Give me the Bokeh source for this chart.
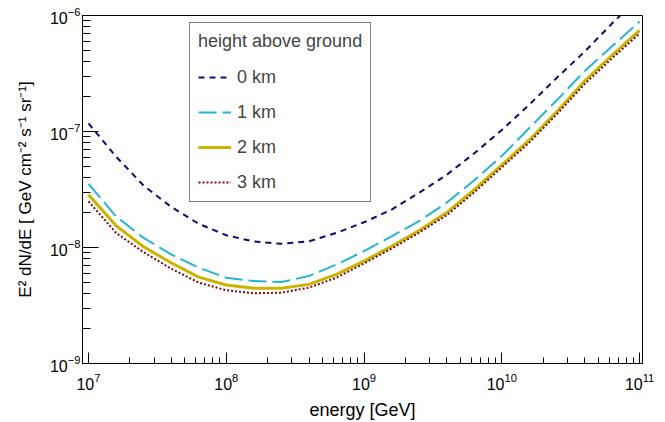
from bokeh.plotting import figure
from bokeh.models import Legend, LegendItem, FixedTicker, Range1d
from bokeh.embed import file_html
from bokeh.resources import INLINE

# energy [GeV]
energy = [1.000e7, 1.585e7, 2.512e7, 3.981e7, 6.310e7,
          1.000e8, 1.585e8, 2.512e8, 3.981e8, 6.310e8,
          1.000e9, 1.585e9, 2.512e9, 3.981e9, 6.310e9,
          1.000e10, 1.585e10, 2.512e10, 3.981e10, 6.310e10,
          1.000e11]

flux_0km = [1.175e-7, 6.08e-8, 3.42e-8, 2.24e-8, 1.60e-8,
            1.275e-8, 1.125e-8, 1.075e-8, 1.13e-8, 1.336e-8,
            1.65e-8, 2.12e-8, 2.965e-8, 4.23e-8, 6.48e-8,
            1.03e-7, 1.705e-7, 2.91e-7, 4.86e-7, 8.53e-7,
            1.455e-6]
flux_1km = [3.54e-8, 1.857e-8, 1.211e-8, 8.71e-9, 6.70e-9,
            5.49e-9, 5.14e-9, 5.04e-9, 5.67e-9, 7.15e-9,
            9.29e-9, 1.25e-8, 1.688e-8, 2.43e-8, 3.80e-8,
            6.16e-8, 1.072e-7, 1.863e-7, 3.31e-7, 5.42e-7,
            8.88e-7]
flux_2km = [2.85e-8, 1.545e-8, 1.014e-8, 7.39e-9, 5.56e-9,
            4.75e-9, 4.45e-9, 4.45e-9, 4.81e-9, 5.86e-9,
            7.63e-9, 1.026e-8, 1.40e-8, 2.00e-8, 3.15e-8,
            5.16e-8, 8.45e-8, 1.485e-7, 2.71e-7, 4.54e-7,
            7.43e-7]
flux_3km = [2.50e-8, 1.336e-8, 9.11e-9, 6.57e-9, 4.98e-9,
            4.28e-9, 4.03e-9, 4.08e-9, 4.51e-9, 5.49e-9,
            7.29e-9, 9.80e-9, 1.345e-8, 1.90e-8, 2.99e-8,
            4.91e-8, 8.05e-8, 1.413e-7, 2.56e-7, 4.28e-7,
            7.00e-7]

labels = ["0 km", "1 km", "2 km", "3 km"]
x_major = [1e7, 1e8, 1e9, 1e10, 1e11]
y_major = [1e-9, 1e-8, 1e-7, 1e-6]

FONT = "Liberation Sans"

p = figure(width=665, height=422, x_axis_type="log", y_axis_type="log",
           x_range=Range1d(9.05e6, 1.05e11), y_range=Range1d(1e-9, 1e-6),
           output_backend="svg", toolbar_location=None,
           min_border_left=82, min_border_right=23, min_border_top=15,
           min_border_bottom=58)
p.xgrid.visible = False
p.ygrid.visible = False
p.outline_line_color = "black"
p.outline_line_width = 1
p.outline_line_alpha = 1
p.background_fill_color = "white"
p.border_fill_color = "white"

x_minor = [m * d for d in [1e6, 1e7, 1e8, 1e9, 1e10] for m in range(2, 10)]
y_minor = [m * d for d in [1e-9, 1e-8, 1e-7] for m in range(2, 10)]
p.xaxis.ticker = FixedTicker(ticks=x_major, minor_ticks=x_minor)
p.yaxis.ticker = FixedTicker(ticks=y_major, minor_ticks=y_minor)

for ax in (p.xaxis[0], p.yaxis[0]):
    ax.axis_line_color = "black"
    ax.major_tick_line_color = "black"
    ax.minor_tick_line_color = "black"
    ax.major_tick_out = 0
    ax.minor_tick_out = 0
    ax.major_label_text_font = FONT
    ax.major_label_text_font_size = "16px"
    ax.major_label_text_color = "black"
    ax.axis_label_text_font = FONT
    ax.axis_label_text_font_size = "18px"
    ax.axis_label_text_font_style = "normal"
    ax.axis_label_text_color = "black"

p.yaxis.axis_label_text_font_size = "17px"
p.xaxis.major_tick_in = 11
p.xaxis.minor_tick_in = 6
p.yaxis.major_tick_in = 16
p.yaxis.minor_tick_in = 8
p.xaxis.major_label_standoff = 9
p.yaxis.major_label_standoff = 2
p.xaxis.axis_label_standoff = 7
p.yaxis.axis_label_standoff = 12

p.xaxis.axis_label = "energy [GeV]"
p.yaxis.axis_label = "E\u00b2 dN/dE [ GeV cm\u207b\u00b2 s\u207b\u00b9 sr\u207b\u00b9]"

r0 = p.line(energy, flux_0km, line_color="#0d0d73", line_width=2, line_dash="6 5")
r1 = p.line(energy, flux_1km, line_color="#27b3d1", line_width=2, line_dash="18 6")
r2 = p.line(energy, flux_2km, line_color="#c9b400", line_width=3)
r3 = p.line(energy, flux_3km, line_color="#7a0a0a", line_width=2, line_dash="2 2")

legend = Legend(items=[LegendItem(label=labels[0], renderers=[r0]),
                       LegendItem(label=labels[1], renderers=[r1]),
                       LegendItem(label=labels[2], renderers=[r2]),
                       LegendItem(label=labels[3], renderers=[r3])],
                location=(107, 161), title="height above ground")
legend.title_text_font = FONT
legend.title_text_font_size = "18px"
legend.title_text_font_style = "normal"
legend.title_standoff = 14
legend.label_text_font = FONT
legend.label_text_font_size = "18px"
legend.glyph_width = 33
legend.glyph_height = 22
legend.label_height = 22
legend.label_standoff = 6
legend.spacing = 13
legend.padding = 8
legend.margin = 0
legend.border_line_color = "black"
legend.border_line_width = 1
legend.background_fill_alpha = 1
p.add_layout(legend, "center")

open("out.html", "w").write(file_html(p, INLINE))
